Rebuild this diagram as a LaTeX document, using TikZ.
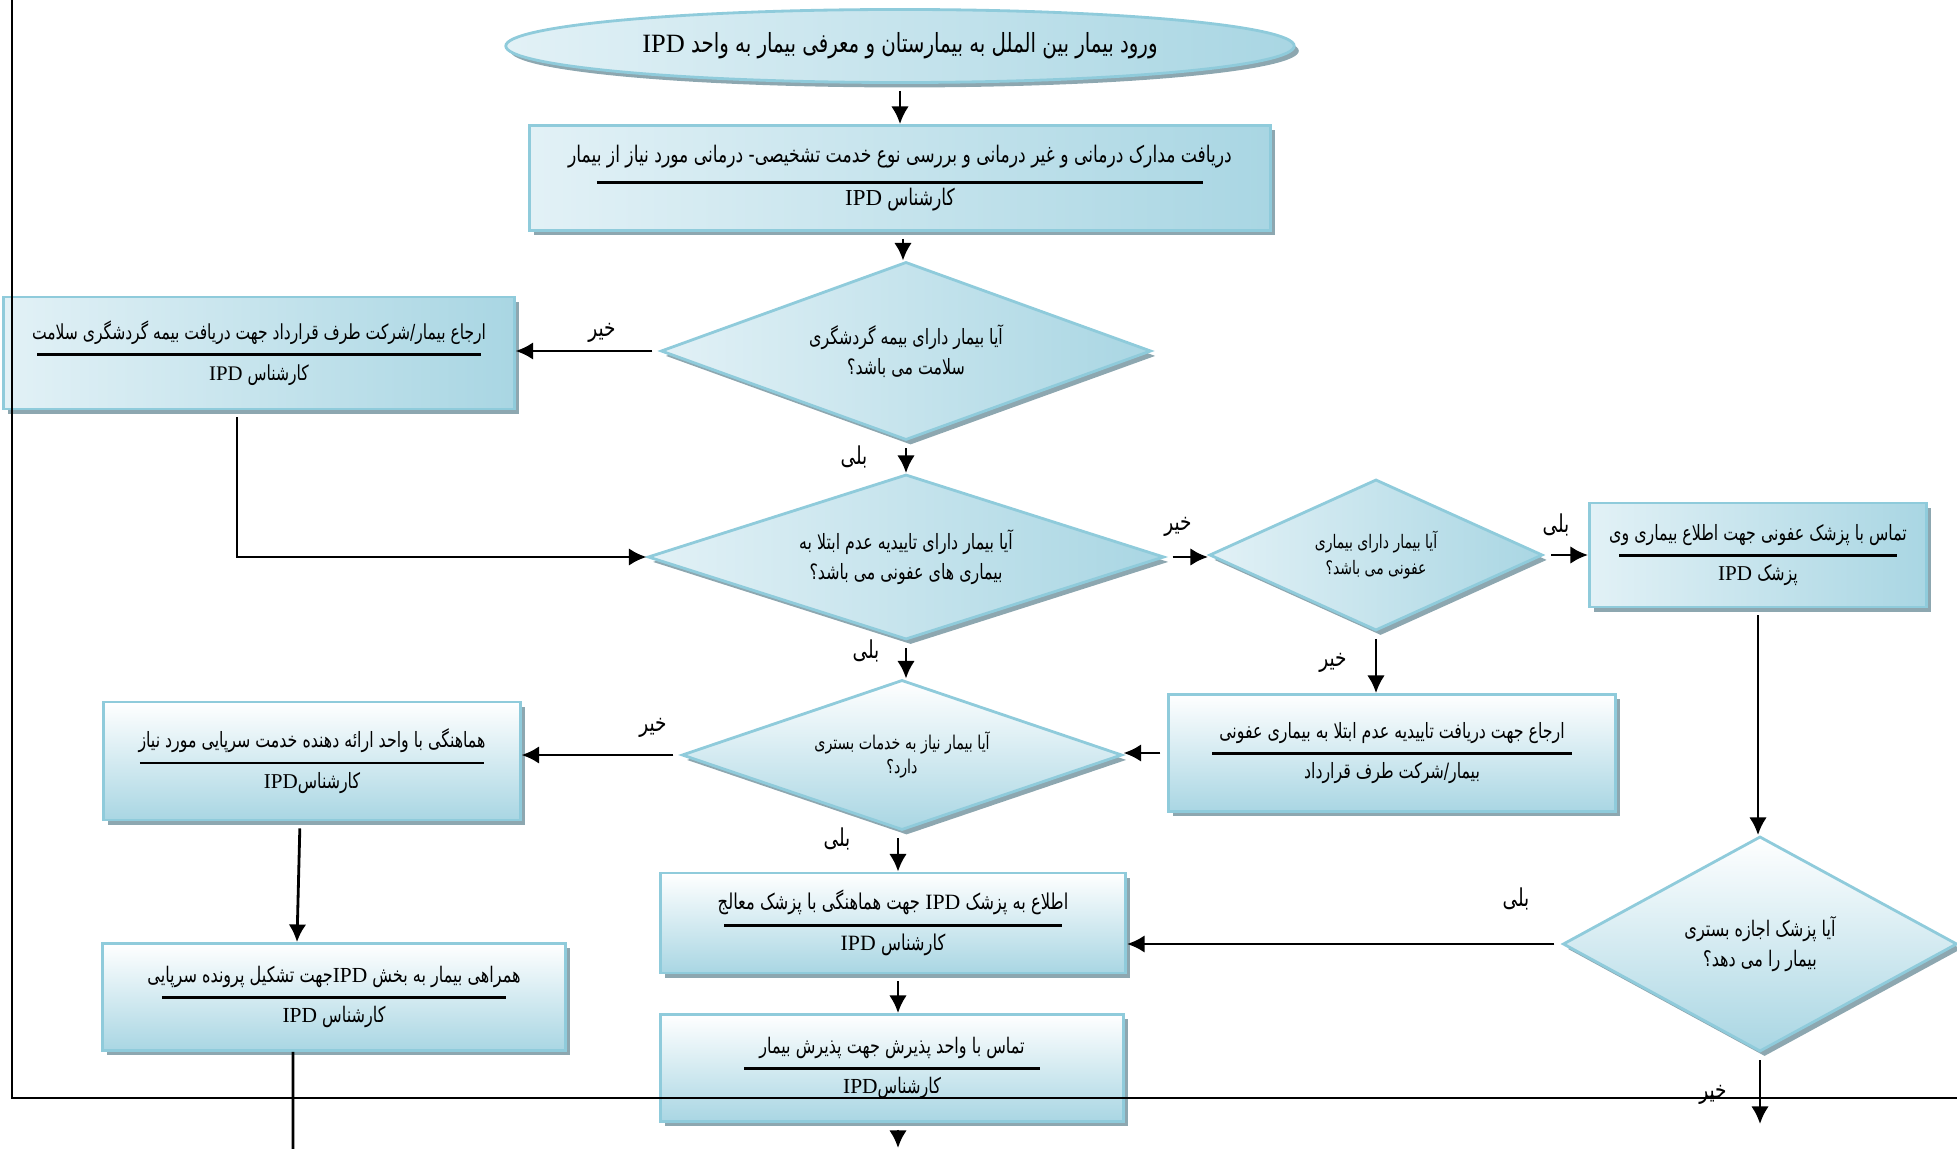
\documentclass[tikz,border=0pt]{standalone}
\usepackage{fontspec}
\usetikzlibrary{shapes.geometric,shadows,arrows.meta,positioning,calc}
\TeXXeTstate=1
\newfontfamily\fafont[Script=Arabic,FakeStretch=0.75]{DejaVu Sans}
\newfontfamily\lafont{Liberation Serif}
\definecolor{boxlight}{HTML}{E2F1F6}
\definecolor{boxdark}{HTML}{A9D6E3}
\definecolor{boxline}{HTML}{8FCBDB}
\definecolor{boxshadow}{HTML}{8DA7B0}
\newcommand{\ipd}{\beginL{\lafont IPD}\endL}
\newcommand{\sep}[1]{\\[-2.2pt]\rule{#1}{0.8pt}\\[-0.2pt]}

\begin{document}
\begin{tikzpicture}[x=0.01cm,y=-0.01cm,
  flow/.style={draw=boxline,line width=0.8pt,align=center,inner sep=1pt,
    drop shadow={shadow xshift=1.3pt,shadow yshift=-1.4pt,fill=boxshadow,opacity=1}},
  fa/.style={font=\fafont\fontsize{#1}{7}\selectfont},
  faq/.style={font=\fafont\fontsize{#1}{8.5}\selectfont},
  shadeA/.style={left color=boxlight,right color=boxdark},
  shadeB/.style={top color=white,bottom color=boxdark},
  ques/.style={flow,diamond,inner sep=0pt},
  arr/.style={-{Latex[length=5pt,width=5pt]},line width=0.8pt,shorten <=2pt},
  lbl/.style={font=\fafont\fontsize{7}{8}\selectfont,inner sep=0pt},
  frame/.style={line width=0.6pt}]
  \useasboundingbox (0,0) rectangle (1957,1149);

  \node[flow,shadeA,ellipse,minimum width=7.88cm,minimum height=0.73cm,fa=7.5] (start) at (900,46) {\beginR ورود بیمار بین الملل به بیمارستان و معرفی بیمار به واحد \ipd\endR};
  \node[flow,shadeA,minimum width=7.40cm,minimum height=1.05cm,fa=6.5] (docs) at (900,178) {\beginR دریافت مدارک درمانی و غیر درمانی و بررسی نوع خدمت تشخیصی- درمانی مورد نیاز از بیمار\endR\\[-0.8pt]\rule{6.06cm}{0.8pt}\\[-0.8pt]\beginR کارشناس \ipd\endR};
  \node[ques,shadeA,aspect=2.75,minimum width=4.90cm,minimum height=1.78cm,faq=6] (qins) at (906,351) {\beginR آیا بیمار دارای بیمه گردشگری\endR\\\beginR سلامت می باشد؟\endR};
  \node[flow,shadeA,minimum width=5.10cm,minimum height=1.12cm,fa=5.9] (refins) at (259,353) {\beginR ارجاع بیمار/شرکت طرف قرارداد جهت دریافت بیمه گردشگری سلامت\endR\sep{4.43cm}\beginR کارشناس \ipd\endR};
  \node[ques,shadeA,aspect=3.13,minimum width=5.16cm,minimum height=1.65cm,faq=6] (qconf) at (906,557) {\beginR آیا بیمار دارای تاییدیه عدم ابتلا به\endR\\\beginR بیماری های عفونی می باشد؟\endR};
  \node[ques,shadeA,aspect=2.2,minimum width=3.33cm,minimum height=1.51cm,font=\fafont\fontsize{5.3}{7.5}\selectfont] (qinf) at (1376,555) {\beginR آیا بیمار دارای بیماری\endR\\\beginR عفونی می باشد؟\endR};
  \node[flow,shadeA,minimum width=3.37cm,minimum height=1.04cm,fa=6] (callinf) at (1758,555) {\beginR تماس با پزشک عفونی جهت اطلاع  بیماری وی\endR\sep{2.77cm}\beginR پزشک \ipd\endR};
  \node[flow,shadeB,minimum width=4.46cm,minimum height=1.17cm,fa=6] (refconf) at (1392,753) {\beginR ارجاع جهت دریافت تاییدیه عدم ابتلا به بیماری عفونی\endR\sep{3.59cm}\beginR بیمار/شرکت طرف قرارداد\endR};
  \node[ques,shadeB,aspect=2.93,minimum width=4.40cm,minimum height=1.50cm,font=\fafont\fontsize{5.4}{7}\selectfont] (qbed) at (902,755) {\beginR آیا بیمار نیاز به خدمات بستری\endR\\\beginR دارد؟\endR};
  \node[flow,shadeB,minimum width=4.16cm,minimum height=1.18cm,fa=6] (outpat) at (312,761) {\beginR هماهنگی با واحد ارائه دهنده خدمت سرپایی مورد نیاز\endR\sep{3.44cm}\beginR کارشناس\ipd\endR};
  \node[flow,shadeB,minimum width=4.62cm,minimum height=1.07cm,fa=6.1] (accomp) at (334,997) {\beginR همراهی بیمار به بخش  \ipd جهت تشکیل پرونده سرپایی\endR\sep{3.44cm}\beginR کارشناس \ipd\endR};
  \node[flow,shadeB,minimum width=4.65cm,minimum height=1.00cm,fa=6.2] (inform) at (893,923) {\beginR اطلاع به پزشک  \ipd{} جهت هماهنگی با پزشک معالج\endR\sep{3.37cm}\beginR کارشناس \ipd\endR};
  \node[ques,shadeB,aspect=1.83,minimum width=3.94cm,minimum height=2.15cm,faq=6.1] (qperm) at (1760,944) {\beginR آیا پزشک اجازه بستری\endR\\\beginR بیمار را می دهد؟\endR};
  \node[flow,shadeB,minimum width=4.63cm,minimum height=1.07cm,fa=6.1] (admit) at (892,1068) {\beginR تماس با واحد پذیرش جهت پذیرش بیمار\endR\sep{2.95cm}\beginR کارشناس\ipd\endR};

  \coordinate (out1) at (293,1160);
  \coordinate (out2) at (898,1148);
  \coordinate (out3) at (1760,1124);

  \draw[arr] (start.south) -- (start.south |- docs.north);
  \draw[arr] (docs.south -| 903,0) -- (qins.north -| 903,0);
  \draw[arr] (qins.west) -- (qins.west -| refins.east);
  \draw[arr] ([xshift=-0.22cm]refins.south) |- (qconf.west);
  \draw[arr] (qins.south) -- (qconf.north);
  \draw[arr] (qconf.east) -- (qconf.east -| qinf.west);
  \draw[arr] (qinf.east) -- (qinf.east -| callinf.west);
  \draw[arr] (callinf.south) -- (callinf.south |- qperm.north);
  \draw[arr] (qinf.south) -- (qinf.south |- refconf.north);
  \draw[arr] (refconf.west) -- (refconf.west -| qbed.east);
  \draw[arr] (qconf.south) -- (qconf.south |- qbed.north);
  \draw[arr] (qbed.west) -- (qbed.west -| outpat.east);
  \draw[arr] ([xshift=-0.12cm]outpat.south) -- ([xshift=-0.37cm]accomp.north);
  \draw[line width=0.8pt] ([xshift=-0.41cm]accomp.south) -- (out1);
  \draw[arr] (qbed.south -| 898,0) -- (inform.north -| 898,0);
  \draw[arr] (qperm.west) -- (qperm.west -| inform.east);
  \draw[arr] (qperm.south) -- (out3);
  \draw[arr] (inform.south -| 898,0) -- (admit.north -| 898,0);
  \draw[arr] (admit.south -| 898,0) -- (out2);

  \node[lbl] (no1) at (602,333) {خیر};
  \node[lbl] (yes1) at (854,457) {بلی};
  \node[lbl] (no2) at (1178,527) {خیر};
  \node[lbl] (yes2) at (1556,525) {بلی};
  \node[lbl] (yes3) at (866,651) {بلی};
  \node[lbl] (no3) at (1333,663) {خیر};
  \node[lbl] (no4) at (653,728) {خیر};
  \node[lbl] (yes4) at (837,839) {بلی};
  \node[lbl] (yes5) at (1516,899) {بلی};
  \node[lbl] (no5) at (1713,1095) {خیر};

  \coordinate (ftop) at (12,0);
  \coordinate (fcorner) at (12,1098);
  \coordinate (fright) at (1957,1098);
  \draw[frame] (ftop) -- (fcorner) -- (fright);
\end{tikzpicture}
\end{document}
